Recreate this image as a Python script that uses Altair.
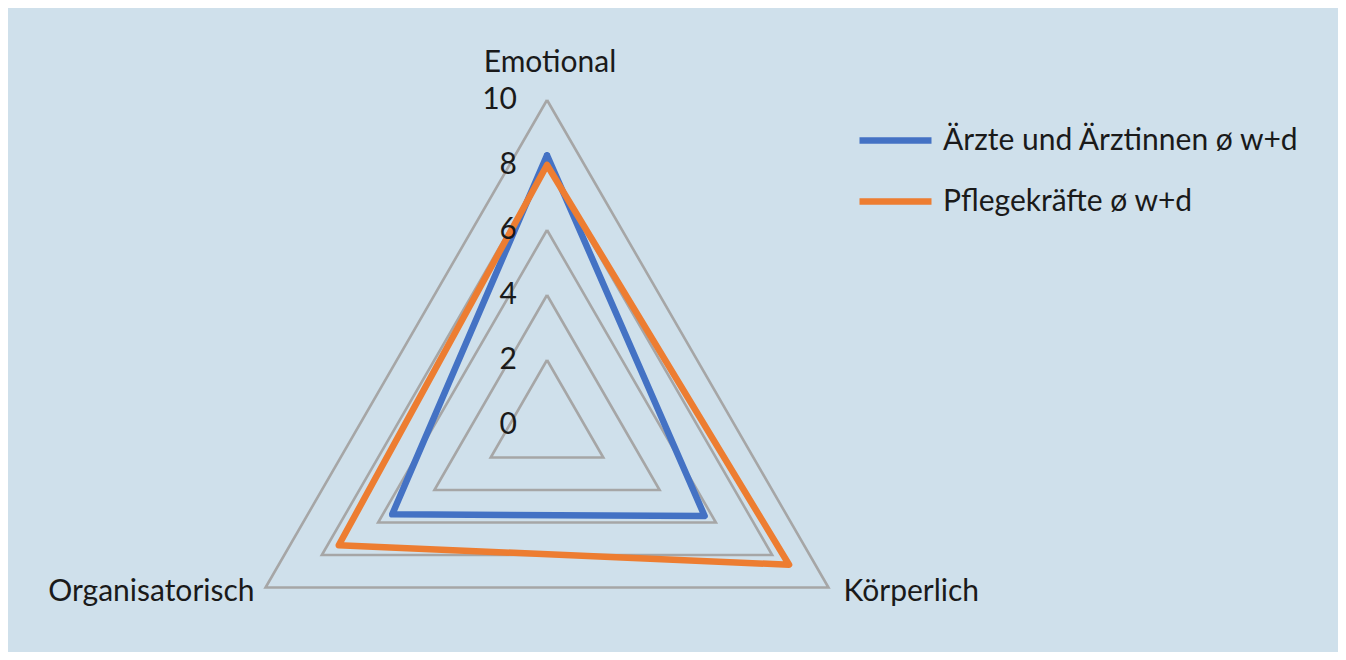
import altair as alt
import pandas as pd

categories = ["Emotional", "Körperlich", "Organisatorisch"]
series = ["Ärzte und Ärztinnen ø w+d", "Pflegekräfte ø w+d"]
aerzte = [8.3, 5.6, 5.5]
pflege = [8.0, 8.6, 7.4]
grid_levels = [2, 4, 6, 8, 10]
tick_labels = [0, 2, 4, 6, 8, 10]
colors = ["#4472c4", "#ed7d31"]

FONT = "Lato"
TXT = "#1a1a1a"
BG = "#cfe0eb"
FS = 30

n = len(categories)
rows = []
for s, vals in zip(series, [aerzte, pflege]):
    for o in range(n + 1):
        i = o % n
        rows.append({"series": s, "category": categories[i], "value": vals[i], "k": i, "order": o})
data = pd.DataFrame(rows)

grid_rows = []
for lv in grid_levels:
    for o in range(n + 1):
        grid_rows.append({"value": lv, "k": o % n, "order": o})
grid = pd.DataFrame(grid_rows)

cat_df = pd.DataFrame({"category": categories, "k": list(range(n)), "value": [max(grid_levels)] * n})
tick_df = pd.DataFrame({"value": tick_labels, "k": [0] * len(tick_labels)})

xs = alt.Scale(domain=[-16.585, 24.338], nice=False, zero=False)
ys = alt.Scale(domain=[-6.985, 12.831], nice=False, zero=False)

def pos(ch):
    return ch.transform_calculate(
        px="datum.value * sin(datum.k * 2 * PI / 3)",
        py="datum.value * cos(datum.k * 2 * PI / 3)",
    )

X = alt.X("px:Q", scale=xs, axis=None)
Y = alt.Y("py:Q", scale=ys, axis=None)

grid_layer = pos(alt.Chart(grid)).mark_line(color="#a6a6a6", strokeWidth=2.6).encode(
    x=X, y=Y, detail="value:N", order="order:Q"
)

lines = pos(alt.Chart(data)).mark_line(strokeWidth=6.5, strokeJoin="round", strokeCap="round").encode(
    x=X, y=Y, order="order:Q",
    color=alt.Color("series:N", scale=alt.Scale(domain=series, range=colors),
                    sort=series,
                    legend=alt.Legend(title=None, orient="none", legendX=848, legendY=93,
                                      symbolType="stroke", symbolSize=5184, symbolStrokeWidth=6.5,
                                      labelFontSize=FS, labelFont=FONT, labelColor=TXT,
                                      labelOffset=8, rowPadding=6, labelLimit=0)),
)

ticks = pos(alt.Chart(tick_df)).mark_text(align="right", baseline="middle", dx=-30,
                                          font=FONT, fontSize=FS, color=TXT).encode(
    x=X, y=Y, text="value:N"
)

def cat_text(name, **kw):
    return pos(alt.Chart(cat_df)).transform_filter(alt.datum.category == name).mark_text(
        font=FONT, fontSize=FS, color=TXT, baseline="middle", **kw
    ).encode(x=X, y=Y, text="category:N")

labels = (
    cat_text(categories[0], align="center", dy=-37, dx=3)
    + cat_text(categories[1], align="left", dx=15, dy=5)
    + cat_text(categories[2], align="right", dx=-11, dy=5)
)

chart = alt.layer(grid_layer, lines, ticks, labels).properties(
    width=1330, height=644, background=BG, padding=0,
    autosize=alt.AutoSizeParams(type="none"),
).configure_view(stroke=None)

chart.save("out.html", embed_options={"renderer": "svg", "actions": False})
